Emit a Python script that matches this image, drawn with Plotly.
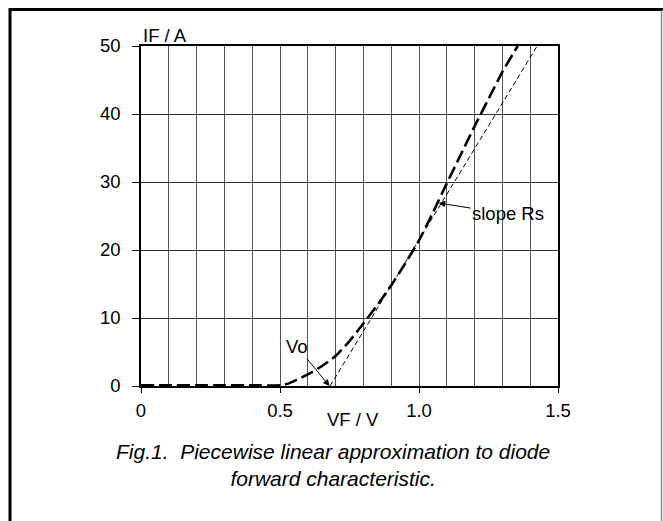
import plotly.graph_objects as go

# Diode forward characteristic
vf_curve = [0.0, 0.1, 0.2, 0.3, 0.4, 0.5, 0.53, 0.56, 0.6, 0.65, 0.7, 0.75, 0.8, 0.85,
            0.9, 0.95, 1.0, 1.05, 1.1, 1.15, 1.2, 1.25, 1.3, 1.355]
if_curve = [0.1, 0.1, 0.1, 0.1, 0.1, 0.1, 0.35, 0.9, 1.7, 2.9, 4.4, 6.6, 9.2, 11.9,
            14.8, 18.0, 21.4, 25.5, 29.8, 34.0, 38.2, 42.2, 46.2, 50.0]

# Piecewise-linear approximation (tangent with slope Rs)
vf_line = [0.68, 1.425]
if_line = [0.0, 50.0]

x_ticks = [0, 0.5, 1.0, 1.5]
x_tick_text = ["0", "0.5", "1.0", "1.5"]
y_ticks = [0, 10, 20, 30, 40, 50]

FONT = "Liberation Sans, Arial, sans-serif"
FS = 18.5

fig = go.Figure()
fig.add_trace(go.Scatter(x=vf_curve, y=if_curve, mode="lines",
                         line=dict(color="black", width=2.6, dash="13px,5px",
                                   shape="spline", smoothing=0.5),
                         hoverinfo="skip", showlegend=False))
fig.add_trace(go.Scatter(x=vf_line, y=if_line, mode="lines",
                         line=dict(color="black", width=1, dash="5px,3px"),
                         hoverinfo="skip", showlegend=False))

fig.update_layout(
    width=663, height=521,
    margin=dict(l=141, r=105, t=46, b=135),
    paper_bgcolor="white", plot_bgcolor="white",
    font=dict(family=FONT, size=FS, color="black"),
    xaxis=dict(range=[0, 1.5], tickvals=x_ticks, ticktext=x_tick_text,
               ticks="outside", ticklen=5, tickcolor="black",
               showline=True, linecolor="black", linewidth=1.5, mirror=True,
               showgrid=False, zeroline=False,
               minor=dict(dtick=0.1, tick0=0, showgrid=True, gridcolor="#555", gridwidth=1),
               tickfont=dict(size=FS), ticklabelstandoff=2),
    yaxis=dict(range=[0, 50], tickvals=y_ticks,
               ticks="outside", ticklen=7, tickcolor="black",
               showline=True, linecolor="black", linewidth=1.5, mirror=True,
               showgrid=True, gridcolor="#333", gridwidth=1, zeroline=False,
               tickfont=dict(size=FS), ticklabelstandoff=8),
)

# axis titles
fig.add_annotation(text="IF / A", xref="paper", yref="paper", x=0.0, y=1.0,
                   xanchor="left", yanchor="bottom", yshift=-2, showarrow=False,
                   font=dict(size=FS))
fig.add_annotation(text="VF / V", xref="paper", yref="paper",
                   x=(353 - 141) / 417, y=(386 - 419) / 340,
                   xanchor="center", yanchor="middle", showarrow=False,
                   font=dict(size=FS))

# Vo annotation
fig.add_annotation(text="Vo", x=0.678, y=0.0, ax=0.561, ay=5.8,
                   axref="x", ayref="y", showarrow=True,
                   arrowhead=2, arrowsize=1.3, arrowwidth=1, arrowcolor="black",
                   font=dict(size=FS))
# slope Rs annotation
fig.add_annotation(text="slope Rs", x=1.071, y=26.9, ax=1.321, ay=25.3,
                   axref="x", ayref="y", showarrow=True,
                   arrowhead=2, arrowsize=1.3, arrowwidth=1, arrowcolor="black",
                   font=dict(size=FS))

# caption
fig.add_annotation(text="<i>Fig.1.  Piecewise linear approximation to diode<br>forward characteristic.</i>",
                   xref="paper", yref="paper",
                   x=(333 - 141) / 417, y=(386 - 465) / 340,
                   xanchor="center", yanchor="middle", showarrow=False,
                   align="center", font=dict(size=21))

# outer frame: top and left thick black, right thin gray
fig.add_shape(type="rect", xref="paper", yref="paper",
              x0=(9 - 141) / 417, x1=(663 - 141) / 417,
              y0=(386 - 8) / 340, y1=(386 - 11) / 340,
              line=dict(width=0), fillcolor="black", layer="above")
fig.add_shape(type="rect", xref="paper", yref="paper",
              x0=(8.5 - 141) / 417, x1=(11.5 - 141) / 417,
              y0=(386 - 8) / 340, y1=(386 - 521) / 340,
              line=dict(width=0), fillcolor="black", layer="above")
fig.add_shape(type="line", xref="paper", yref="paper",
              x0=(661.5 - 141) / 417, x1=(661.5 - 141) / 417,
              y0=(386 - 10) / 340, y1=(386 - 521) / 340,
              line=dict(color="#888", width=1.5))

post = """
document.body.style.margin='0';
document.body.style.padding='0';
"""
fig.write_html("out.html", config={"displayModeBar": False}, post_script=post)
